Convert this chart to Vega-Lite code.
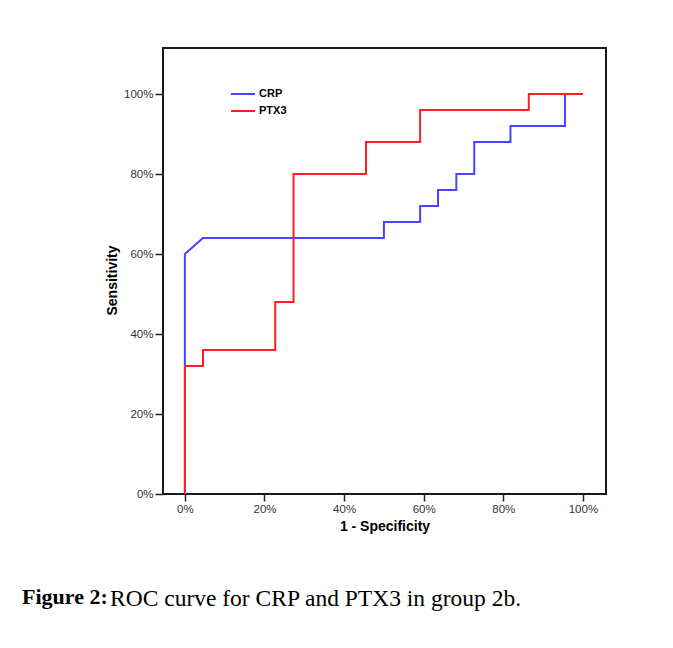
{
  "$schema": "https://vega.github.io/schema/vega-lite/v6.json",
  "autosize": {"type": "pad"},
  "padding": {"left": 22, "top": 47, "right": 67, "bottom": 30},
  "background": "white",
  "title": {
    "text": "Figure 2:",
    "orient": "bottom",
    "anchor": "start",
    "frame": "group",
    "dx": -141,
    "offset": -24,
    "font": "Liberation Serif",
    "fontSize": 22,
    "fontWeight": "bold",
    "color": "black"
  },
  "vconcat": [
    {
      "width": 443,
      "height": 446,
      "title": {
        "text": "ROC curve for CRP and PTX3 in group 2b.",
        "orient": "bottom",
        "anchor": "start",
        "frame": "group",
        "dx": -53,
        "offset": 53,
        "font": "Liberation Serif",
        "fontSize": 23.5,
        "fontWeight": "normal",
        "color": "black"
      },
      "data": {
        "values": [
          {"test": "CRP", "i": 1, "fpr": 0, "tpr": 0},
          {"test": "CRP", "i": 2, "fpr": 0, "tpr": 0.6},
          {"test": "CRP", "i": 3, "fpr": 0.0455, "tpr": 0.64},
          {"test": "CRP", "i": 4, "fpr": 0.5, "tpr": 0.64},
          {"test": "CRP", "i": 5, "fpr": 0.5, "tpr": 0.68},
          {"test": "CRP", "i": 6, "fpr": 0.591, "tpr": 0.68},
          {"test": "CRP", "i": 7, "fpr": 0.591, "tpr": 0.72},
          {"test": "CRP", "i": 8, "fpr": 0.636, "tpr": 0.72},
          {"test": "CRP", "i": 9, "fpr": 0.636, "tpr": 0.76},
          {"test": "CRP", "i": 10, "fpr": 0.682, "tpr": 0.76},
          {"test": "CRP", "i": 11, "fpr": 0.682, "tpr": 0.8},
          {"test": "CRP", "i": 12, "fpr": 0.727, "tpr": 0.8},
          {"test": "CRP", "i": 13, "fpr": 0.727, "tpr": 0.88},
          {"test": "CRP", "i": 14, "fpr": 0.818, "tpr": 0.88},
          {"test": "CRP", "i": 15, "fpr": 0.818, "tpr": 0.92},
          {"test": "CRP", "i": 16, "fpr": 0.955, "tpr": 0.92},
          {"test": "CRP", "i": 17, "fpr": 0.955, "tpr": 1},
          {"test": "CRP", "i": 18, "fpr": 1, "tpr": 1},
          {"test": "PTX3", "i": 1, "fpr": 0, "tpr": 0},
          {"test": "PTX3", "i": 2, "fpr": 0, "tpr": 0.32},
          {"test": "PTX3", "i": 3, "fpr": 0.0455, "tpr": 0.32},
          {"test": "PTX3", "i": 4, "fpr": 0.0455, "tpr": 0.36},
          {"test": "PTX3", "i": 5, "fpr": 0.227, "tpr": 0.36},
          {"test": "PTX3", "i": 6, "fpr": 0.227, "tpr": 0.48},
          {"test": "PTX3", "i": 7, "fpr": 0.273, "tpr": 0.48},
          {"test": "PTX3", "i": 8, "fpr": 0.273, "tpr": 0.8},
          {"test": "PTX3", "i": 9, "fpr": 0.455, "tpr": 0.8},
          {"test": "PTX3", "i": 10, "fpr": 0.455, "tpr": 0.88},
          {"test": "PTX3", "i": 11, "fpr": 0.591, "tpr": 0.88},
          {"test": "PTX3", "i": 12, "fpr": 0.591, "tpr": 0.96},
          {"test": "PTX3", "i": 13, "fpr": 0.864, "tpr": 0.96},
          {"test": "PTX3", "i": 14, "fpr": 0.864, "tpr": 1},
          {"test": "PTX3", "i": 15, "fpr": 1, "tpr": 1}
        ]
      },
      "mark": {"type": "line", "strokeWidth": 2},
      "encoding": {
        "x": {
          "field": "fpr",
          "type": "quantitative",
          "scale": {"domain": [-0.055, 1.058], "nice": false, "zero": false},
          "axis": {
            "values": [0, 0.2, 0.4, 0.6, 0.8, 1],
            "format": ".0%",
            "domain": false,
            "grid": false,
            "tickColor": "#222",
            "tickSize": 7,
            "tickWidth": 1.5,
            "labelFont": "Liberation Sans",
            "labelFontSize": 11.5,
            "labelColor": "#333",
            "labelPadding": 2,
            "title": "1 - Specificity",
            "titleFont": "Liberation Sans",
            "titleFontSize": 14,
            "titleFontWeight": "bold",
            "titleColor": "black",
            "titlePadding": 5
          }
        },
        "y": {
          "field": "tpr",
          "type": "quantitative",
          "scale": {"domain": [0, 1.115], "nice": false, "zero": false},
          "axis": {
            "values": [0, 0.2, 0.4, 0.6, 0.8, 1],
            "format": ".0%",
            "domain": false,
            "grid": false,
            "tickColor": "#222",
            "tickSize": 8,
            "tickWidth": 1.5,
            "labelFont": "Liberation Sans",
            "labelFontSize": 11.5,
            "labelColor": "#333",
            "labelPadding": 2,
            "title": "Sensitivity",
            "titleFont": "Liberation Sans",
            "titleFontSize": 14,
            "titleFontWeight": "bold",
            "titleColor": "black",
            "titlePadding": 4,
            "titleY": 232
          }
        },
        "color": {
          "field": "test",
          "type": "nominal",
          "scale": {"domain": ["CRP", "PTX3"], "range": ["#4545ff", "#ff1f1f"]},
          "legend": {
            "orient": "none",
            "legendX": 67,
            "legendY": 39,
            "title": null,
            "symbolType": "stroke",
            "symbolSize": 576,
            "symbolStrokeWidth": 2,
            "clipHeight": 14,
            "labelFont": "Liberation Sans",
            "labelFontSize": 11,
            "labelFontWeight": "bold",
            "labelColor": "black",
            "labelOffset": 3,
            "rowPadding": 3,
            "padding": 0
          }
        },
        "order": {"field": "i", "type": "quantitative"}
      }
    }
  ],
  "config": {"view": {"stroke": "#1a1a1a", "strokeWidth": 2}}
}
